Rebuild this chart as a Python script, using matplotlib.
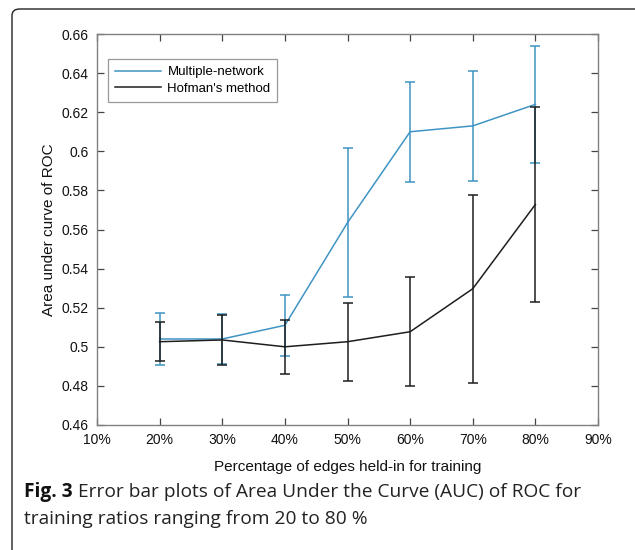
import matplotlib
matplotlib.use("Agg")
import matplotlib.pyplot as plt
from matplotlib.patches import FancyBboxPatch
from matplotlib.lines import Line2D

# ---- data ----
train_pct = [20, 30, 40, 50, 60, 70, 80]
multi_mean = [0.504, 0.504, 0.511, 0.5635, 0.610, 0.613, 0.624]
multi_err = [0.0135, 0.013, 0.0155, 0.038, 0.0255, 0.028, 0.030]
hof_mean = [0.5026, 0.5035, 0.500, 0.5026, 0.5077, 0.5297, 0.5728]
hof_err = [0.010, 0.013, 0.0138, 0.020, 0.028, 0.048, 0.050]
x_ticks = [10, 20, 30, 40, 50, 60, 70, 80, 90]
x_ticklabels = ["10%", "20%", "30%", "40%", "50%", "60%", "70%", "80%", "90%"]
y_ticks = [0.46, 0.48, 0.5, 0.52, 0.54, 0.56, 0.58, 0.6, 0.62, 0.64, 0.66]
y_ticklabels = ["0.46", "0.48", "0.5", "0.52", "0.54", "0.56", "0.58", "0.6", "0.62", "0.64", "0.66"]
series_names = ["Multiple-network", "Hofman's method"]

W, H = 635, 550
fig = plt.figure(figsize=(W / 100, H / 100), dpi=100)
fig.patch.set_facecolor("white")

plt.rcParams["font.family"] = ["Liberation Sans", "DejaVu Sans"]

ax = fig.add_axes([97 / W, 1 - 425 / H, (598 - 97) / W, (425 - 34) / H])

blue = "#3f94c4"
black = "#1e1e1e"
ax.errorbar(train_pct, multi_mean, yerr=multi_err, color=blue, lw=1.1,
            capsize=3.5, capthick=1.1, elinewidth=1.1, zorder=2)
ax.errorbar(train_pct, hof_mean, yerr=hof_err, color=black, lw=1.1,
            capsize=3.5, capthick=1.1, elinewidth=1.1, zorder=3)

ax.set_xlim(10, 90)
ax.set_ylim(0.46, 0.66)
ax.set_xticks(x_ticks)
ax.set_xticklabels(x_ticklabels)
ax.set_yticks(y_ticks)
ax.set_yticklabels(y_ticklabels)
ax.tick_params(direction="in", length=5, width=0.9, color="#444444",
               labelsize=10, labelcolor="#111111", top=True, right=True, pad=6)
for s in ax.spines.values():
    s.set_color("#808080")
    s.set_linewidth(1.0)

ax.set_xlabel("Percentage of edges held-in for training", fontsize=11, color="#111111", labelpad=9)
ax.set_ylabel("Area under curve of ROC", fontsize=11, color="#111111", labelpad=4)

handles = [Line2D([], [], color=blue, lw=1.1), Line2D([], [], color=black, lw=1.1)]
leg = ax.legend(handles, series_names, loc="upper left", bbox_to_anchor=(0.022, 0.935),
                fontsize=9.5, handlelength=3.5, frameon=True, fancybox=False, borderpad=0.5,
                labelspacing=0.35, handletextpad=0.5, borderaxespad=0.0)
leg.get_frame().set_edgecolor("#808080")
leg.get_frame().set_linewidth(0.9)

# outer frame with rounded corner (top and left visible)
frame = FancyBboxPatch((12 / W, -0.2), (W + 20 - 12) / W, (H - 9) / H + 0.2,
                       boxstyle="round,pad=0,rounding_size=0.012",
                       transform=fig.transFigure, fill=False, edgecolor="#222222",
                       linewidth=1.0, clip_on=False)
fig.patches.append(frame)

# caption
cap_font = ["Open Sans", "DejaVu Sans"]
t1 = fig.text(24 / W, 1 - 497 / H, "Fig. 3", fontsize=13.8, fontweight="bold",
              family=cap_font, color="#111111", va="baseline")
fig.canvas.draw()
r = fig.canvas.get_renderer()
bb = t1.get_window_extent(r)
fig.text((bb.x1 + 5) / W, 1 - 497 / H,
         "Error bar plots of Area Under the Curve (AUC) of ROC for",
         fontsize=13.8, family=cap_font, color="#222222", va="baseline")
fig.text(24 / W, 1 - 524 / H, "training ratios ranging from 20 to 80 %",
         fontsize=13.8, family=cap_font, color="#222222", va="baseline")

fig.savefig("out.png", dpi=100)
